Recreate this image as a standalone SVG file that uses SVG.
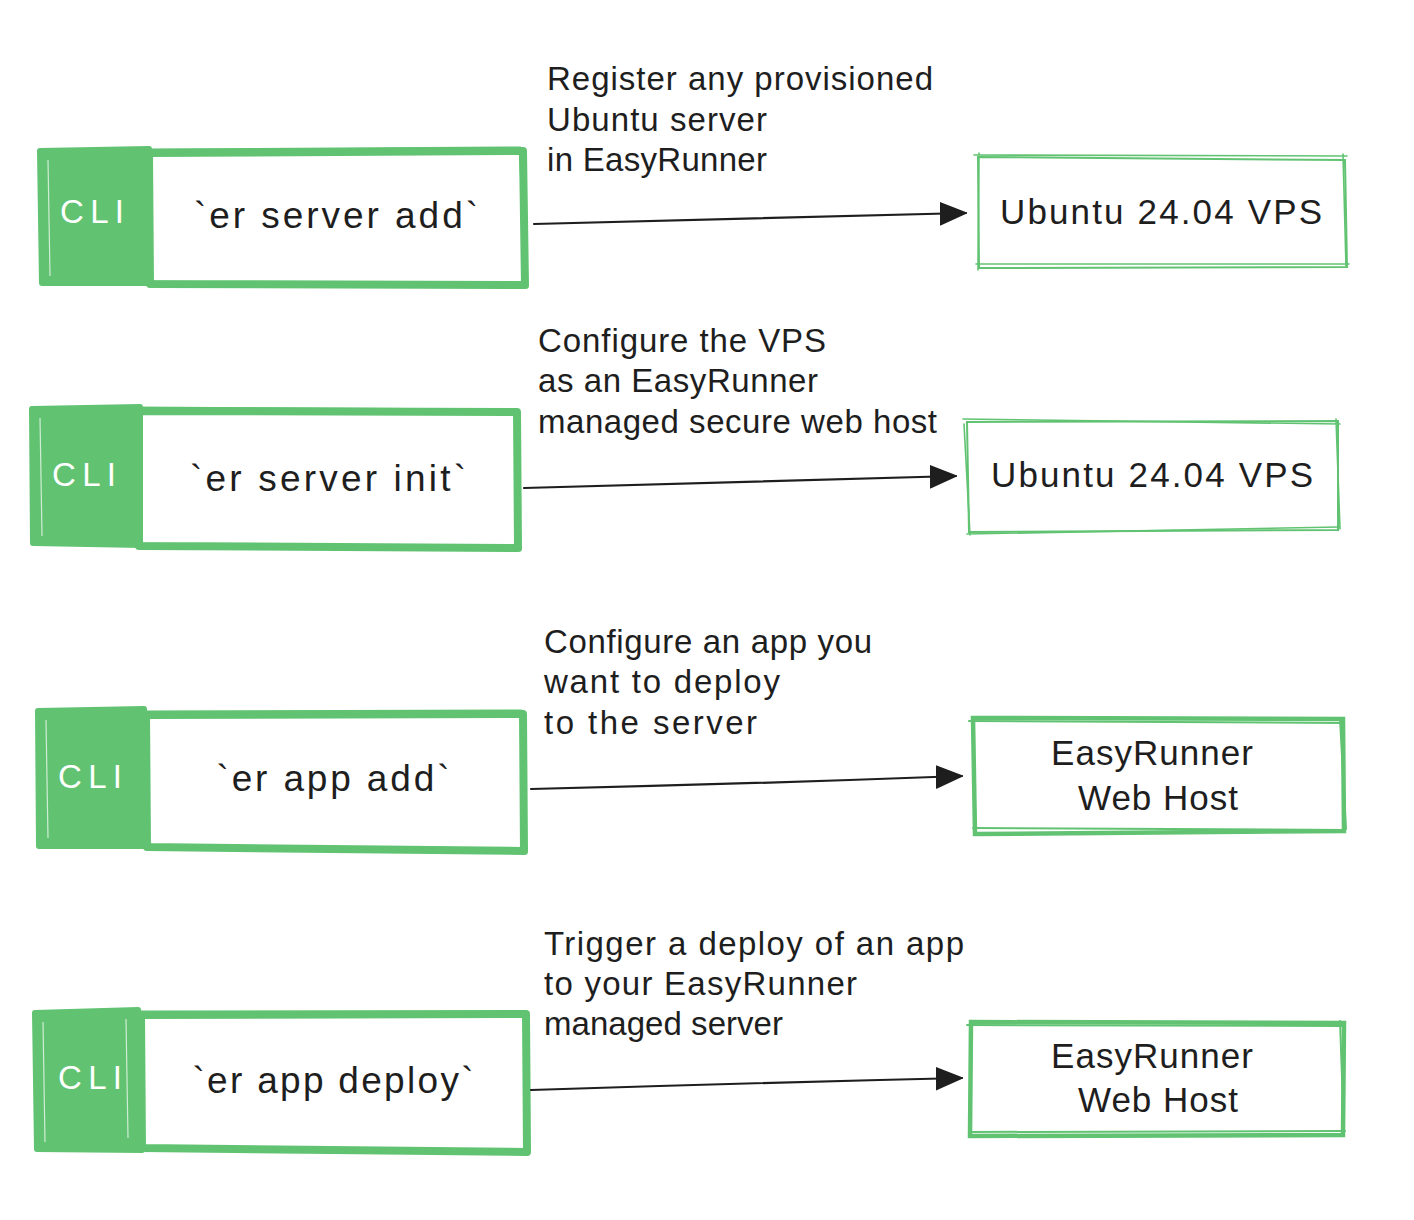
<svg xmlns="http://www.w3.org/2000/svg" width="1414" height="1220" viewBox="0 0 1414 1220">
<style>
.bg{fill:#ffffff}
.cli{fill:#61c372;stroke:#61c372;stroke-width:6;stroke-linejoin:round;stroke-linecap:round}
.cliline{fill:none;stroke:#ffffff;stroke-width:1.2;opacity:0.7}
.main{fill:#ffffff;stroke:#61c372;stroke-width:8;stroke-linejoin:round;stroke-linecap:round}
.main2{fill:none;stroke:#61c372;stroke-width:3;stroke-linecap:round}
.thin{fill:#ffffff;stroke:#61c372;stroke-width:2;stroke-linecap:round}
.thin2{fill:none;stroke:#61c372;stroke-width:1.6;stroke-linecap:round}
.med{fill:#ffffff;stroke:#61c372;stroke-width:4.5;stroke-linecap:round}
.med2{fill:none;stroke:#61c372;stroke-width:2;stroke-linecap:round}
.conn{fill:none;stroke:#1e1e1e;stroke-width:2.2;stroke-linecap:round}
.t{font-family:"Liberation Sans","Noto Sans",sans-serif;fill:#1e1e1e}
.clit{font-family:"Liberation Sans","Noto Sans",sans-serif;fill:#ffffff;font-size:33px}
.cmd{font-size:37px}
.lbl{font-size:33px}
.tgt{font-size:35px}
</style>
<defs>
<marker id="ah" markerUnits="userSpaceOnUse" markerWidth="30" markerHeight="26" refX="26" refY="12" orient="auto">
<path d="M0,1 L26,12 L0,23 Z" fill="#1e1e1e" stroke="#1e1e1e" stroke-width="1.5" stroke-linejoin="round"/>
</marker>
</defs>
<rect class="bg" x="0" y="0" width="1414" height="1220"/>

<g id="cli1">
<path class="cli" d="M40,151 L149,149 L151,283 L42,283 Z"/>
<path class="cliline" d="M48,160 L50,276"/>
<text class="clit" x="92" y="223" text-anchor="middle" textLength="64">CLI</text>
</g>
<g id="cmd1">
<path class="main" d="M149,153 L523,151 L525,285 L150,284 Z"/>
<path class="main2" d="M145,150 L520,148 M520,148 L527,287 M152,282 L525,286"/>
<text class="t cmd" x="336" y="228" text-anchor="middle" textLength="284">`er server add`</text>
</g>
<g id="cli2">
<path class="cli" d="M32,409 L140,407 L142,545 L33,543 Z"/>
<path class="cliline" d="M40,418 L42,536"/>
<text class="clit" x="84" y="486" text-anchor="middle" textLength="64">CLI</text>
</g>
<g id="cmd2">
<path class="main" d="M139,411 L517,412 L518,548 L139,546 Z"/>
<path class="main2" d="M133,408 L516,410 M516,410 L520,550 M138,544 L518,549"/>
<text class="t cmd" x="328" y="491" text-anchor="middle" textLength="276">`er server init`</text>
</g>
<g id="cli3">
<path class="cli" d="M38,711 L144,709 L146,846 L39,846 Z"/>
<path class="cliline" d="M46,720 L48,838"/>
<text class="clit" x="90" y="788" text-anchor="middle" textLength="64">CLI</text>
</g>
<g id="cmd3">
<path class="main" d="M146,715 L523,714 L524,851 L147,847 Z"/>
<path class="main2" d="M140,712 L521,711 M521,711 L526,853 M146,849 L524,852"/>
<text class="t cmd" x="333" y="791" text-anchor="middle" textLength="233">`er app add`</text>
</g>
<g id="cli4">
<path class="cli" d="M35,1013 L138,1010 L142,1150 L37,1149 Z"/>
<path class="cliline" d="M43,1022 L45,1142 M126,1019 L128,1138"/>
<text class="clit" x="90" y="1089" text-anchor="middle" textLength="64">CLI</text>
</g>
<g id="cmd4">
<path class="main" d="M141,1015 L526,1014 L527,1152 L142,1148 Z"/>
<path class="main2" d="M140,1012 L525,1012 M525,1012 L528,1154 M142,1150 L526,1152"/>
<text class="t cmd" x="333" y="1093" text-anchor="middle" textLength="281">`er app deploy`</text>
</g>

<g id="vps1">
<path class="thin" d="M978,157 L1345,160 L1347,267 L979,268 Z"/>
<path class="thin2" d="M974,155 L1347,156 M1343,154 L1346,266 M976,264 L1349,264 M979,153 L978,270"/>
<text class="t tgt" x="1161" y="224" text-anchor="middle" textLength="322">Ubuntu 24.04 VPS</text>
</g>
<g id="vps2">
<path class="thin" d="M967,422 L1338,421 L1338,530 L969,532 Z"/>
<path class="thin2" d="M963,419 L1340,424 M1336,419 L1340,529 M967,534 L1339,527 M964,424 L970,535"/>
<text class="t tgt" x="1152" y="487" text-anchor="middle" textLength="322">Ubuntu 24.04 VPS</text>
</g>
<g id="host3">
<path class="med" d="M973,718 L1343,719 L1344,831 L975,834 Z"/>
<path class="med2" d="M969,721 L1343,723 M1340,719 L1346,829 M973,828 L1345,830"/>
<text class="t tgt" x="1152" y="765" text-anchor="middle" textLength="202">EasyRunner</text>
<text class="t tgt" x="1158" y="810" text-anchor="middle" textLength="160">Web Host</text>
</g>
<g id="host4">
<path class="med" d="M971,1022 L1344,1023 L1343,1135 L970,1136 Z"/>
<path class="med2" d="M967,1025 L1342,1026 M1340,1021 L1344,1133 M970,1132 L1345,1131"/>
<text class="t tgt" x="1152" y="1068" text-anchor="middle" textLength="202">EasyRunner</text>
<text class="t tgt" x="1158" y="1112" text-anchor="middle" textLength="160">Web Host</text>
</g>

<g id="connectors">
<path class="conn" d="M534,224 Q750,219 966,213" marker-end="url(#ah)"/>
<path class="conn" d="M524,488 Q740,482 956,476" marker-end="url(#ah)"/>
<path class="conn" d="M531,789 Q747,784 962,776" marker-end="url(#ah)"/>
<path class="conn" d="M531,1090 Q747,1083 962,1078" marker-end="url(#ah)"/>
</g>

<g id="labels">
<text class="t lbl" x="547" y="90" textLength="386">Register any provisioned</text>
<text class="t lbl" x="547" y="131" textLength="220">Ubuntu server</text>
<text class="t lbl" x="547" y="171" textLength="220">in EasyRunner</text>
<text class="t lbl" x="538" y="352" textLength="288">Configure the VPS</text>
<text class="t lbl" x="538" y="392" textLength="280">as an EasyRunner</text>
<text class="t lbl" x="538" y="433" textLength="399">managed secure web host</text>
<text class="t lbl" x="544" y="653" textLength="328">Configure an app you</text>
<text class="t lbl" x="544" y="693" textLength="236">want to deploy</text>
<text class="t lbl" x="544" y="734" textLength="213">to the server</text>
<text class="t lbl" x="544" y="955" textLength="420">Trigger a deploy of an app</text>
<text class="t lbl" x="544" y="995" textLength="313">to your EasyRunner</text>
<text class="t lbl" x="544" y="1035" textLength="239">managed server</text>
</g>
</svg>
